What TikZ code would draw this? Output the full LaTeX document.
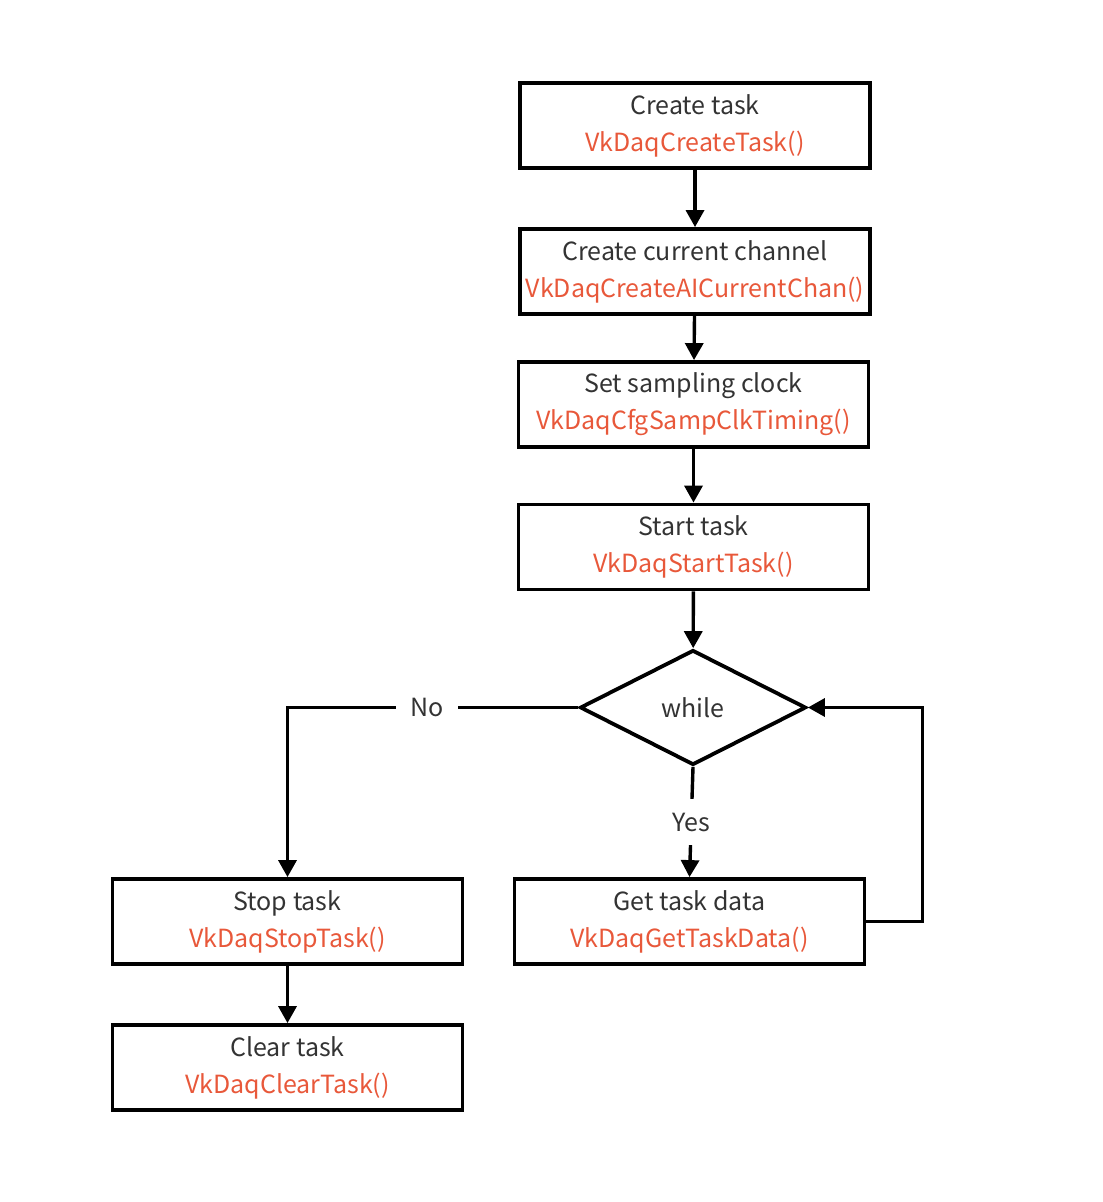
\documentclass[tikz,border=0pt]{standalone}
\usepackage{fontspec}
\setmainfont{Noto Sans CJK SC}
\usetikzlibrary{arrows.meta,shapes.geometric}
\definecolor{apiname}{RGB}{232,88,58}
\definecolor{stepname}{RGB}{51,51,51}
\tikzset{
  basic/.style  = {draw, line width=1.9pt, font=\fontsize{12.5}{18.5}\selectfont, text=stepname},
  task/.style   = {basic, rectangle, align=center, inner sep=0pt, minimum width=175pt, minimum height=42.5pt},
  cond/.style   = {basic, diamond, inner sep=0pt, minimum width=113pt, minimum height=57.5pt},
  answer/.style = {fill=white, text=stepname, inner sep=7pt, font=\fontsize{12.5}{15}\selectfont}
}
\newcommand{\api}[1]{\textcolor{apiname}{#1}}

\begin{document}
\begin{tikzpicture}[x=0.5pt, y=-0.5pt,
  line width=1.7pt,
  >={Triangle[length=8.5pt,width=9pt]}]
\useasboundingbox (0,0) rectangle (1102,1202);

% the main column of steps
\node[task] (create) at (695,125.5) {Create task\\\api{VkDaqCreateTask()}};
\node[task] (chan)   at (695,271.5) {Create current channel\\\api{VkDaqCreateAICurrentChan()}};
\node[task] (clock)  at (693.5,404.5) {Set sampling clock\\\api{VkDaqCfgSampClkTiming()}};
\node[task] (start)  at (693.5,547) {Start task\\\api{VkDaqStartTask()}};
\node[cond] (while)  at (693,707.5) {while};

% the two branches of the loop
\node[task] (data)  at (689.5,921.5) {Get task data\\\api{VkDaqGetTaskData()}};
\node[task] (stop)  at (287.5,921.5) {Stop task\\\api{VkDaqStopTask()}};
\node[task] (clear) at (287.5,1067.5) {Clear task\\\api{VkDaqClearTask()}};

% straight arrows down the column
\draw[->] (create) -- (chan);
\draw[->] (chan)   -- (clock);
\draw[->] (clock)  -- (start);
\draw[->] (start)  -- (while);
\draw[->] (stop)   -- (clear);

% branches out of the condition
\draw[->] (while.south) -- node[answer] {Yes} (data.north);
\draw[->] (while.west) -| node[answer, pos=0.26] {No} (stop.north);
\draw[->] (data.east) -- ++(56,0) |- (while.east);
\end{tikzpicture}
\end{document}
